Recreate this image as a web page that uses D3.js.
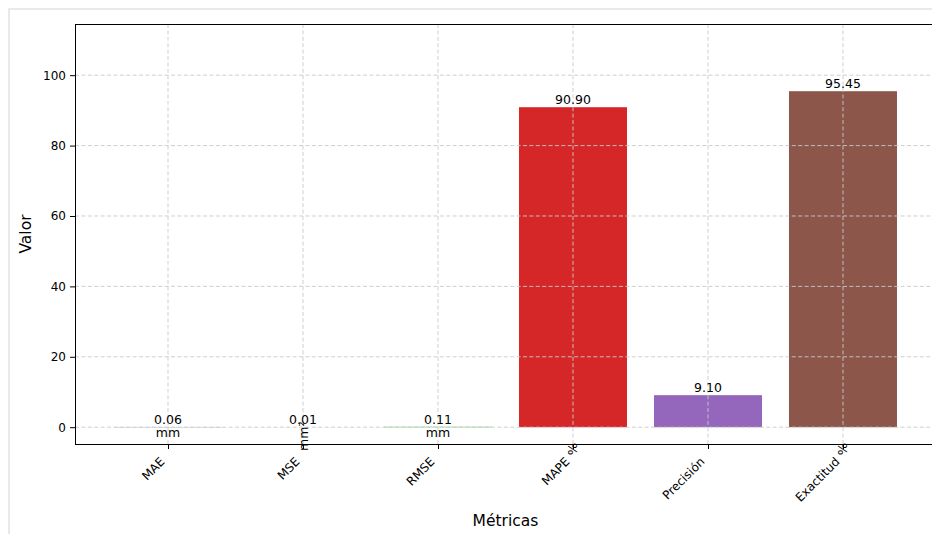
<!DOCTYPE html>
<html>
<head>
<meta charset="utf-8">
<script src="https://cdn.jsdelivr.net/npm/d3@7/dist/d3.min.js"></script>
<style>
  html, body { margin: 0; padding: 0; background: #fff; }
  #frame {
    position: absolute; left: 8px; top: 8px; width: 940px; height: 540px;
    border-left: 2px solid #e9e9e9; border-top: 2px solid #e9e9e9;
  }
  svg { position: absolute; left: 0; top: 0; }
  text { font-family: "DejaVu Sans", sans-serif; fill: #000; }
</style>
</head>
<body>
<div id="frame"></div>
<svg id="chart" width="932" height="534"></svg>
<script>
// Evaluation metrics of the model
const metrics = ["MAE", "MSE", "RMSE", "MAPE", "Precisión", "Exactitud"];
const values  = [0.06, 0.01, 0.11, 90.90, 9.10, 95.45];
const units   = ["mm", "mm²", "mm", "%", "", "%"];
const colors  = ["#1f77b4", "#ff7f0e", "#2ca02c", "#d62728", "#9467bd", "#8c564b"];
const yTicks  = [0, 20, 40, 60, 80, 100];

const svg = d3.select("#chart");
const plot = { left: 75, top: 24, right: 936, bottom: 444 };

const barW = 0.8;
const x = d3.scaleLinear()
  .domain([-0.689, metrics.length - 1 + 0.689])
  .range([plot.left, plot.right]);
const yMax = d3.max(values) * 1.2;
const yMin = -0.05 * (d3.max(values) - 0);
const y = d3.scaleLinear().domain([yMin, yMax]).range([plot.bottom, plot.top]);

// bars
svg.append("g").selectAll("rect")
  .data(values)
  .join("rect")
  .attr("x", (d, i) => x(i - barW / 2))
  .attr("width", x(barW / 2) - x(-barW / 2))
  .attr("y", d => y(d))
  .attr("height", d => y(0) - y(d))
  .attr("fill", (d, i) => colors[i]);

// dashed grid, drawn over the bars
const grid = svg.append("g")
  .attr("stroke", "#c9c9c9")
  .attr("stroke-width", 0.9)
  .attr("stroke-dasharray", "4,2.4");
grid.selectAll("line.h").data(yTicks).join("line")
  .attr("class", "h")
  .attr("x1", plot.left).attr("x2", plot.right)
  .attr("y1", d => y(d)).attr("y2", d => y(d));
grid.selectAll("line.v").data(metrics).join("line")
  .attr("class", "v")
  .attr("x1", (d, i) => x(i)).attr("x2", (d, i) => x(i))
  .attr("y1", plot.top).attr("y2", plot.bottom);

// y axis
const yAxis = d3.axisLeft(y).tickValues(yTicks).tickSize(5).tickPadding(4);
const gy = svg.append("g").attr("transform", `translate(${plot.left},0)`).call(yAxis);
gy.select(".domain").remove();
gy.selectAll("text").style("font-size", "12px").style("font-family", "DejaVu Sans");
gy.selectAll("line").attr("stroke", "#000");

// x axis (ticks only; labels drawn rotated)
const xAxis = d3.axisBottom(x).tickValues(d3.range(metrics.length)).tickSize(5).tickFormat("");
const gx = svg.append("g").attr("transform", `translate(0,${plot.bottom})`).call(xAxis);
gx.select(".domain").remove();
gx.selectAll("line").attr("stroke", "#000");

svg.append("g").selectAll("text")
  .data(metrics)
  .join("text")
  .attr("transform", (d, i) => `translate(${x(i) - 5},${plot.bottom + 16}) rotate(-45)`)
  .attr("text-anchor", "end")
  .attr("dominant-baseline", "middle")
  .style("font-size", "12px")
  .text(d => d);

// spines
const spines = svg.append("g").attr("stroke", "#000").attr("stroke-width", 1).attr("fill", "none");
spines.append("line").attr("x1", plot.left + 0.5).attr("x2", plot.left + 0.5).attr("y1", plot.top).attr("y2", plot.bottom);
spines.append("line").attr("x1", plot.left).attr("x2", plot.right).attr("y1", plot.top + 0.5).attr("y2", plot.top + 0.5);
spines.append("line").attr("x1", plot.left).attr("x2", plot.right).attr("y1", plot.bottom + 0.5).attr("y2", plot.bottom + 0.5);

// value labels
const labels = svg.append("g").style("font-size", "12.5px").attr("text-anchor", "middle");
values.forEach((v, i) => {
  const cx = x(i);
  labels.append("text").attr("x", cx).attr("y", y(v) - 3).text(v.toFixed(2));
  const u = units[i];
  if (!u) return;
  if (u === "mm") {
    labels.append("text").attr("x", cx).attr("y", y(v) + 10.5).text(u);
  } else {
    // units set upright along the tick
    const cy = u === "%" ? plot.bottom + 5 : y(0) + 9;
    labels.append("text")
      .attr("transform", `translate(${cx + 1},${cy}) rotate(-90)`)
      .attr("dominant-baseline", "middle")
      .style("font-size", u === "%" ? "13px" : "12.5px")
      .text(u);
  }
});

// axis titles
svg.append("text")
  .attr("transform", `translate(26,${(plot.top + plot.bottom) / 2}) rotate(-90)`)
  .attr("text-anchor", "middle")
  .attr("dominant-baseline", "middle")
  .style("font-size", "15.5px")
  .text("Valor");
svg.append("text")
  .attr("x", (plot.left + plot.right) / 2)
  .attr("y", 526)
  .attr("text-anchor", "middle")
  .style("font-size", "15.5px")
  .text("Métricas");
</script>
</body>
</html>
